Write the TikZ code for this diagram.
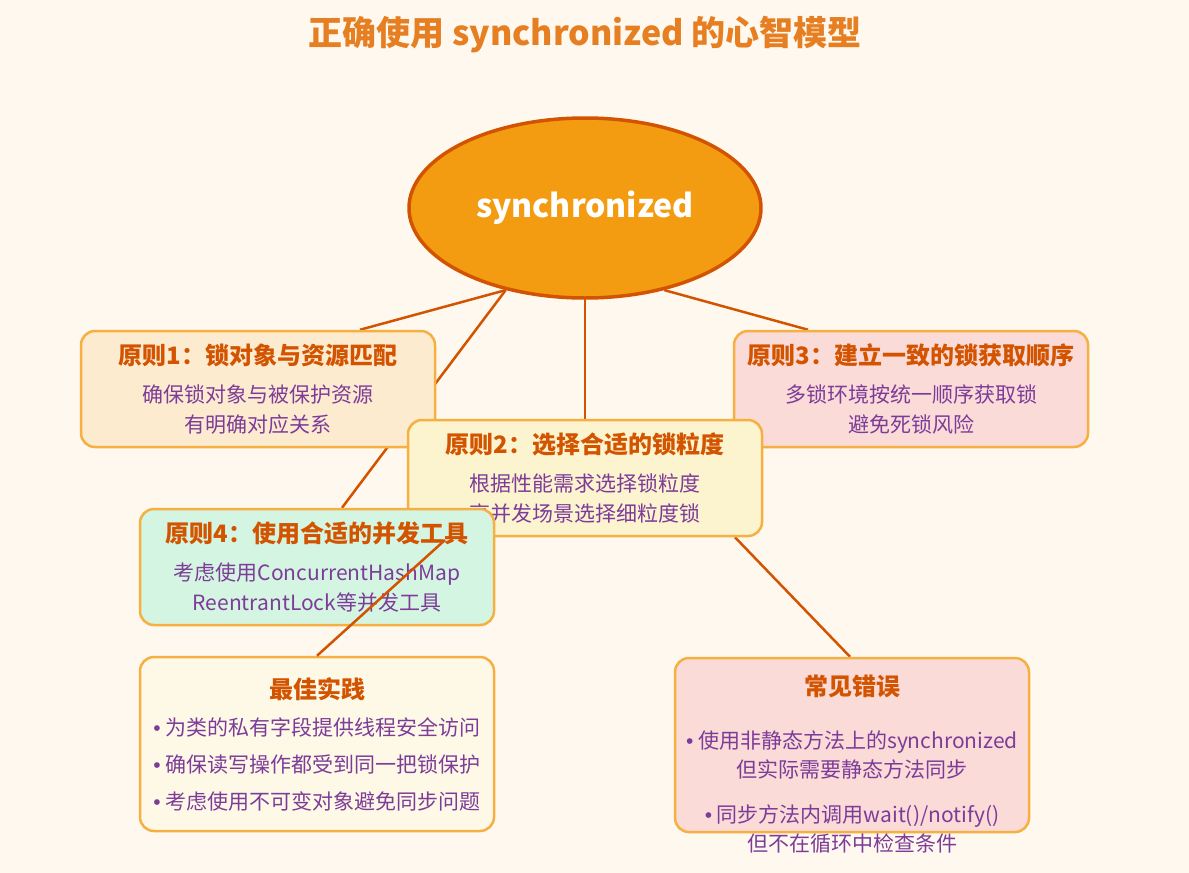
\documentclass[tikz,border=0pt]{standalone}
\usepackage{fontspec}
\setmainfont{Noto Sans CJK SC}
\newfontfamily\dotfont{Liberation Sans}
\usetikzlibrary{shapes.geometric}

\definecolor{pagebg}{HTML}{FFF8EF}
\definecolor{titleorange}{HTML}{E67E22}
\definecolor{corefill}{HTML}{F39C12}
\definecolor{darkorange}{HTML}{D35400}
\definecolor{boxline}{HTML}{F5B041}
\definecolor{textpurple}{HTML}{7D3C98}
\definecolor{fillpeach}{HTML}{FDEBD0}
\definecolor{fillyellow}{HTML}{FCF3CF}
\definecolor{fillpink}{HTML}{FADBD8}
\definecolor{fillmint}{HTML}{D5F5E3}
\definecolor{fillcream}{HTML}{FEF9E7}

\newcommand{\boxhead}[1]{{\fontsize{24}{30}\selectfont\bfseries\color{darkorange}#1}}
\newcommand{\dotitem}{{\dotfont •} }

\pgfdeclarelayer{under}
\pgfsetlayers{under,main}

\begin{document}
\begin{tikzpicture}[
x=1pt, y=-1pt,
card/.style={
draw=boxline,
line width=2.5pt,
rounded corners=14pt,
align=center,
minimum width=354pt,
minimum height=116pt,
text=textpurple,
font=\fontsize{21}{30}\selectfont
},
link/.style={draw=darkorange, line width=2.5pt}
]

\begin{pgfonlayer}{under}
\fill[pagebg] (0,0) rectangle (1189,873);
\useasboundingbox (0,0) rectangle (1189,873);

\node (syn) [ellipse, fill=corefill, draw=darkorange, line width=3.5pt,
minimum width=352pt, minimum height=180pt,
text=white, font=\fontsize{32}{38}\selectfont\bfseries] at (585,208)
{synchronized};
\end{pgfonlayer}

\node (title) [text=titleorange, font=\fontsize{34}{40}\selectfont\bfseries] at (585,35)
{正确使用 synchronized 的心智模型};

\node (p1) [card, fill=fillpeach] at (258,389)
{\boxhead{原则1：锁对象与资源匹配}\\[8pt]
确保锁对象与被保护资源\\
有明确对应关系};

\node (p3) [card, fill=fillpink] at (911,389)
{\boxhead{原则3：建立一致的锁获取顺序}\\[8pt]
多锁环境按统一顺序获取锁\\
避免死锁风险};

\node (p2) [card, fill=fillyellow] at (585,478)
{\boxhead{原则2：选择合适的锁粒度}\\[8pt]
根据性能需求选择锁粒度\\
高并发场景选择细粒度锁};

\node (p4) [card, fill=fillmint] at (317,567)
{\boxhead{原则4：使用合适的并发工具}\\[8pt]
考虑使用ConcurrentHashMap\\
ReentrantLock等并发工具};

\node (best) [card, fill=fillcream, minimum height=174pt,
font=\fontsize{21}{37}\selectfont] at (317,744)
{\boxhead{最佳实践}\\
\dotitem 为类的私有字段提供线程安全访问\\
\dotitem 确保读写操作都受到同一把锁保护\\
\dotitem 考虑使用不可变对象避免同步问题};

\node (mistakes) [card, fill=fillpink, minimum height=174pt] at (852,745) {};
\node (mistaketext) [text=textpurple, align=center,
font=\fontsize{21}{29}\selectfont] at (852,764)
{\boxhead{常见错误}\\[24pt]
\dotitem 使用非静态方法上的synchronized\\
但实际需要静态方法同步\\[16pt]
\dotitem 同步方法内调用wait()/notify()\\
但不在循环中检查条件};

\coordinate (tip) at (445,540);

\begin{pgfonlayer}{under}
\draw[link] ([xshift=102pt]p1.north) -- (syn.226);
\draw[link] ([xshift=-103pt]p3.north) -- (syn.314);
\draw[link] ([xshift=25pt]p4.north) -- (syn.226);
\draw[link] (p2) -- (syn);
\draw[link] ([xshift=150pt]p2.south) -- ([xshift=-2pt]mistakes.north);
\end{pgfonlayer}

\draw[link] (best.north) -- (tip);

\end{tikzpicture}
\end{document}
